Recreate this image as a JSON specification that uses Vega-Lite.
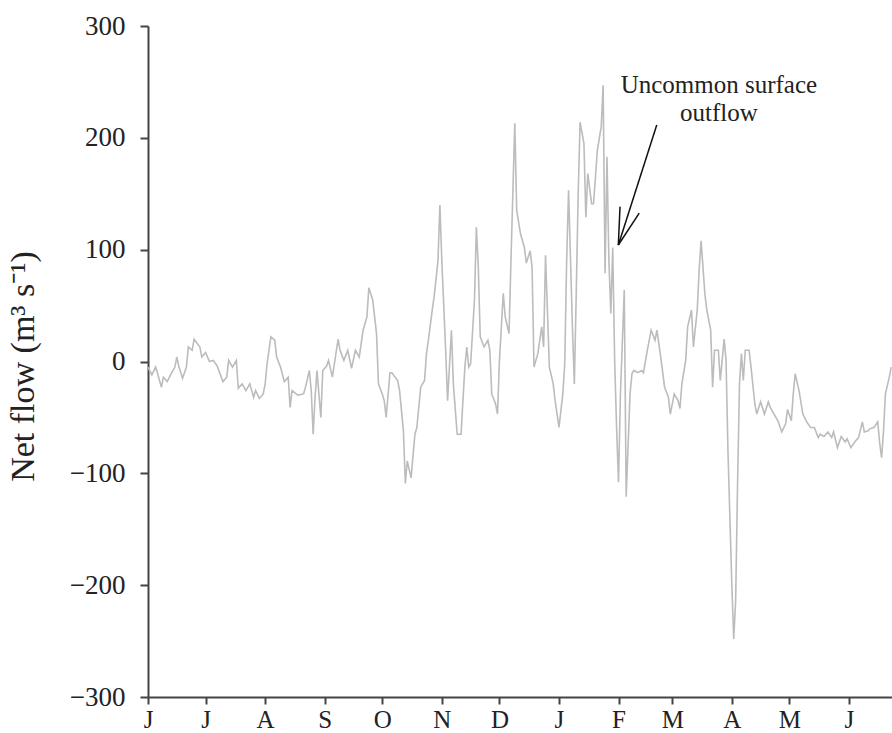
{
  "$schema": "https://vega.github.io/schema/vega-lite/v6.json",
  "width": 744,
  "height": 671,
  "autosize": {"type": "none"},
  "padding": {"left": 148, "top": 26, "right": 0, "bottom": 36},
  "background": "white",
  "config": {"view": {"stroke": null}, "font": "Liberation Serif"},
  "datasets": {
    "flow": [
      {"date": "2004-06-01", "flow": -5}, {"date": "2004-06-03", "flow": -12}, {"date": "2004-06-05", "flow": -5},
      {"date": "2004-06-08", "flow": -23}, {"date": "2004-06-09", "flow": -14}, {"date": "2004-06-11", "flow": -18},
      {"date": "2004-06-13", "flow": -11}, {"date": "2004-06-15", "flow": -5}, {"date": "2004-06-16", "flow": 4},
      {"date": "2004-06-17", "flow": -4}, {"date": "2004-06-19", "flow": -15}, {"date": "2004-06-21", "flow": -5},
      {"date": "2004-06-22", "flow": 13}, {"date": "2004-06-24", "flow": 10}, {"date": "2004-06-25", "flow": 20},
      {"date": "2004-06-28", "flow": 13}, {"date": "2004-06-29", "flow": 4}, {"date": "2004-07-01", "flow": 8},
      {"date": "2004-07-03", "flow": 0}, {"date": "2004-07-05", "flow": 1}, {"date": "2004-07-07", "flow": -4},
      {"date": "2004-07-10", "flow": -18}, {"date": "2004-07-12", "flow": -14}, {"date": "2004-07-13", "flow": 1},
      {"date": "2004-07-15", "flow": -5}, {"date": "2004-07-17", "flow": 1}, {"date": "2004-07-18", "flow": -24},
      {"date": "2004-07-20", "flow": -20}, {"date": "2004-07-22", "flow": -26}, {"date": "2004-07-24", "flow": -20},
      {"date": "2004-07-26", "flow": -32}, {"date": "2004-07-27", "flow": -26}, {"date": "2004-07-29", "flow": -33},
      {"date": "2004-07-31", "flow": -29}, {"date": "2004-08-01", "flow": -20}, {"date": "2004-08-02", "flow": -2},
      {"date": "2004-08-04", "flow": 22}, {"date": "2004-08-06", "flow": 19}, {"date": "2004-08-07", "flow": 4},
      {"date": "2004-08-09", "flow": -5}, {"date": "2004-08-11", "flow": -18}, {"date": "2004-08-13", "flow": -14},
      {"date": "2004-08-14", "flow": -41}, {"date": "2004-08-15", "flow": -26}, {"date": "2004-08-18", "flow": -30},
      {"date": "2004-08-21", "flow": -29}, {"date": "2004-08-22", "flow": -23}, {"date": "2004-08-24", "flow": -8},
      {"date": "2004-08-25", "flow": -26}, {"date": "2004-08-26", "flow": -65}, {"date": "2004-08-27", "flow": -32},
      {"date": "2004-08-28", "flow": -8}, {"date": "2004-08-30", "flow": -50}, {"date": "2004-08-31", "flow": -8},
      {"date": "2004-09-02", "flow": -4}, {"date": "2004-09-03", "flow": 1}, {"date": "2004-09-05", "flow": -14},
      {"date": "2004-09-08", "flow": 20}, {"date": "2004-09-09", "flow": 10}, {"date": "2004-09-11", "flow": 1},
      {"date": "2004-09-13", "flow": 10}, {"date": "2004-09-15", "flow": -6}, {"date": "2004-09-17", "flow": 10},
      {"date": "2004-09-19", "flow": 4}, {"date": "2004-09-21", "flow": 28}, {"date": "2004-09-23", "flow": 40},
      {"date": "2004-09-24", "flow": 66}, {"date": "2004-09-26", "flow": 55}, {"date": "2004-09-28", "flow": 25},
      {"date": "2004-09-29", "flow": -20}, {"date": "2004-10-01", "flow": -29}, {"date": "2004-10-02", "flow": -35},
      {"date": "2004-10-03", "flow": -50}, {"date": "2004-10-05", "flow": -10}, {"date": "2004-10-06", "flow": -10},
      {"date": "2004-10-09", "flow": -17}, {"date": "2004-10-10", "flow": -26}, {"date": "2004-10-12", "flow": -62},
      {"date": "2004-10-13", "flow": -109}, {"date": "2004-10-14", "flow": -89}, {"date": "2004-10-16", "flow": -104},
      {"date": "2004-10-18", "flow": -65}, {"date": "2004-10-19", "flow": -59}, {"date": "2004-10-21", "flow": -23},
      {"date": "2004-10-23", "flow": -17}, {"date": "2004-10-24", "flow": 7}, {"date": "2004-10-25", "flow": 19},
      {"date": "2004-10-27", "flow": 46}, {"date": "2004-10-28", "flow": 58}, {"date": "2004-10-30", "flow": 90},
      {"date": "2004-10-31", "flow": 140}, {"date": "2004-11-01", "flow": 90}, {"date": "2004-11-03", "flow": 10},
      {"date": "2004-11-04", "flow": -35}, {"date": "2004-11-06", "flow": 28}, {"date": "2004-11-07", "flow": -20},
      {"date": "2004-11-09", "flow": -65}, {"date": "2004-11-11", "flow": -65}, {"date": "2004-11-12", "flow": -35},
      {"date": "2004-11-13", "flow": -5}, {"date": "2004-11-14", "flow": 13}, {"date": "2004-11-15", "flow": -5},
      {"date": "2004-11-16", "flow": -2}, {"date": "2004-11-18", "flow": 55}, {"date": "2004-11-19", "flow": 120},
      {"date": "2004-11-20", "flow": 84}, {"date": "2004-11-21", "flow": 22}, {"date": "2004-11-23", "flow": 13},
      {"date": "2004-11-25", "flow": 19}, {"date": "2004-11-26", "flow": 10}, {"date": "2004-11-27", "flow": -29},
      {"date": "2004-11-29", "flow": -38}, {"date": "2004-11-30", "flow": -47}, {"date": "2004-12-01", "flow": 1},
      {"date": "2004-12-03", "flow": 61}, {"date": "2004-12-04", "flow": 40}, {"date": "2004-12-06", "flow": 25},
      {"date": "2004-12-07", "flow": 90}, {"date": "2004-12-09", "flow": 213}, {"date": "2004-12-10", "flow": 135},
      {"date": "2004-12-12", "flow": 114}, {"date": "2004-12-14", "flow": 102}, {"date": "2004-12-15", "flow": 88},
      {"date": "2004-12-17", "flow": 99}, {"date": "2004-12-18", "flow": 84}, {"date": "2004-12-19", "flow": -5},
      {"date": "2004-12-21", "flow": 7}, {"date": "2004-12-23", "flow": 31}, {"date": "2004-12-24", "flow": 13},
      {"date": "2004-12-25", "flow": 95}, {"date": "2004-12-27", "flow": -5}, {"date": "2004-12-29", "flow": -20},
      {"date": "2004-12-30", "flow": -35}, {"date": "2005-01-01", "flow": -59}, {"date": "2005-01-03", "flow": -29},
      {"date": "2005-01-04", "flow": -2}, {"date": "2005-01-05", "flow": 90}, {"date": "2005-01-06", "flow": 153},
      {"date": "2005-01-08", "flow": 31}, {"date": "2005-01-09", "flow": -20}, {"date": "2005-01-10", "flow": 61},
      {"date": "2005-01-11", "flow": 150}, {"date": "2005-01-12", "flow": 214}, {"date": "2005-01-14", "flow": 195},
      {"date": "2005-01-15", "flow": 129}, {"date": "2005-01-16", "flow": 168}, {"date": "2005-01-18", "flow": 141},
      {"date": "2005-01-19", "flow": 141}, {"date": "2005-01-21", "flow": 189}, {"date": "2005-01-23", "flow": 210},
      {"date": "2005-01-24", "flow": 247}, {"date": "2005-01-25", "flow": 79}, {"date": "2005-01-26", "flow": 183},
      {"date": "2005-01-27", "flow": 90}, {"date": "2005-01-28", "flow": 43}, {"date": "2005-01-29", "flow": 102},
      {"date": "2005-01-30", "flow": 1}, {"date": "2005-01-31", "flow": -59}, {"date": "2005-02-01", "flow": -108},
      {"date": "2005-02-02", "flow": -29}, {"date": "2005-02-04", "flow": 64}, {"date": "2005-02-05", "flow": -121},
      {"date": "2005-02-07", "flow": -29}, {"date": "2005-02-08", "flow": -11}, {"date": "2005-02-09", "flow": -8},
      {"date": "2005-02-11", "flow": -10}, {"date": "2005-02-13", "flow": -8}, {"date": "2005-02-14", "flow": -10},
      {"date": "2005-02-16", "flow": 10}, {"date": "2005-02-18", "flow": 28}, {"date": "2005-02-20", "flow": 19},
      {"date": "2005-02-21", "flow": 28}, {"date": "2005-02-23", "flow": 4}, {"date": "2005-02-25", "flow": -23},
      {"date": "2005-02-27", "flow": -32}, {"date": "2005-02-28", "flow": -47}, {"date": "2005-03-02", "flow": -29},
      {"date": "2005-03-04", "flow": -35}, {"date": "2005-03-05", "flow": -42}, {"date": "2005-03-06", "flow": -20},
      {"date": "2005-03-08", "flow": 1}, {"date": "2005-03-09", "flow": 31}, {"date": "2005-03-11", "flow": 46},
      {"date": "2005-03-12", "flow": 13}, {"date": "2005-03-14", "flow": 46}, {"date": "2005-03-15", "flow": 82},
      {"date": "2005-03-16", "flow": 108}, {"date": "2005-03-18", "flow": 60}, {"date": "2005-03-19", "flow": 46},
      {"date": "2005-03-21", "flow": 28}, {"date": "2005-03-22", "flow": -23}, {"date": "2005-03-23", "flow": 10},
      {"date": "2005-03-25", "flow": 10}, {"date": "2005-03-26", "flow": -17}, {"date": "2005-03-28", "flow": 20},
      {"date": "2005-03-29", "flow": 1}, {"date": "2005-03-30", "flow": -80}, {"date": "2005-04-01", "flow": -199},
      {"date": "2005-04-02", "flow": -248}, {"date": "2005-04-03", "flow": -214}, {"date": "2005-04-04", "flow": -109},
      {"date": "2005-04-05", "flow": -20}, {"date": "2005-04-06", "flow": 7}, {"date": "2005-04-07", "flow": -17},
      {"date": "2005-04-08", "flow": 10}, {"date": "2005-04-10", "flow": 10}, {"date": "2005-04-11", "flow": -5},
      {"date": "2005-04-13", "flow": -38}, {"date": "2005-04-14", "flow": -47}, {"date": "2005-04-16", "flow": -36},
      {"date": "2005-04-18", "flow": -47}, {"date": "2005-04-20", "flow": -36}, {"date": "2005-04-21", "flow": -41},
      {"date": "2005-04-23", "flow": -47}, {"date": "2005-04-25", "flow": -53}, {"date": "2005-04-27", "flow": -63},
      {"date": "2005-04-29", "flow": -56}, {"date": "2005-04-30", "flow": -43}, {"date": "2005-05-02", "flow": -53},
      {"date": "2005-05-03", "flow": -29}, {"date": "2005-05-04", "flow": -11}, {"date": "2005-05-06", "flow": -26},
      {"date": "2005-05-08", "flow": -47}, {"date": "2005-05-10", "flow": -54}, {"date": "2005-05-12", "flow": -59},
      {"date": "2005-05-14", "flow": -59}, {"date": "2005-05-16", "flow": -68}, {"date": "2005-05-17", "flow": -65},
      {"date": "2005-05-19", "flow": -67}, {"date": "2005-05-21", "flow": -63}, {"date": "2005-05-23", "flow": -68},
      {"date": "2005-05-24", "flow": -63}, {"date": "2005-05-26", "flow": -77}, {"date": "2005-05-28", "flow": -67},
      {"date": "2005-05-30", "flow": -72}, {"date": "2005-05-31", "flow": -69}, {"date": "2005-06-02", "flow": -77},
      {"date": "2005-06-04", "flow": -72}, {"date": "2005-06-06", "flow": -68}, {"date": "2005-06-08", "flow": -54},
      {"date": "2005-06-09", "flow": -63}, {"date": "2005-06-11", "flow": -62}, {"date": "2005-06-12", "flow": -60},
      {"date": "2005-06-14", "flow": -59}, {"date": "2005-06-16", "flow": -54}, {"date": "2005-06-17", "flow": -73},
      {"date": "2005-06-18", "flow": -86}, {"date": "2005-06-19", "flow": -62}, {"date": "2005-06-20", "flow": -29},
      {"date": "2005-06-22", "flow": -14}, {"date": "2005-06-23", "flow": -5}
    ],
    "arrow": [
      {"x1": "2005-02-20T22:00:00Z", "y1": 211.5, "x2": "2005-01-31T22:00:00Z", "y2": 104.2},
      {"x1": "2005-01-31T22:00:00Z", "y1": 104.2, "x2": "2005-02-01T19:00:00Z", "y2": 138.5},
      {"x1": "2005-01-31T22:00:00Z", "y1": 104.2, "x2": "2005-02-11T19:00:00Z", "y2": 132.6}
    ],
    "note": [
      {"date": "2005-03-25T07:00:00Z", "value": 240, "label": "Uncommon surface"},
      {"date": "2005-03-25T07:00:00Z", "value": 215, "label": "outflow"}
    ]
  },
  "layer": [
    {
      "data": {"name": "flow"},
      "mark": {"type": "line", "color": "#bcbcbc", "strokeWidth": 1.6},
      "encoding": {
        "x": {
          "field": "date",
          "type": "temporal",
          "scale": {
            "type": "utc",
            "domain": [
              {"year": 2004, "month": 6, "date": 1, "utc": true},
              {"year": 2005, "month": 6, "date": 23, "hours": 10, "utc": true}
            ]
          },
          "axis": {
            "title": null,
            "values": [
              {"year": 2004, "month": 6, "date": 1, "utc": true},
              {"year": 2004, "month": 7, "date": 1, "utc": true},
              {"year": 2004, "month": 8, "date": 1, "utc": true},
              {"year": 2004, "month": 9, "date": 1, "utc": true},
              {"year": 2004, "month": 10, "date": 1, "utc": true},
              {"year": 2004, "month": 11, "date": 1, "utc": true},
              {"year": 2004, "month": 12, "date": 1, "utc": true},
              {"year": 2005, "month": 1, "date": 1, "utc": true},
              {"year": 2005, "month": 2, "date": 1, "utc": true},
              {"year": 2005, "month": 3, "date": 1, "utc": true},
              {"year": 2005, "month": 4, "date": 1, "utc": true},
              {"year": 2005, "month": 5, "date": 1, "utc": true},
              {"year": 2005, "month": 6, "date": 1, "utc": true}
            ],
            "labelExpr": "substring(utcFormat(datum.value, '%b'), 0, 1)",
            "labelFont": "Liberation Serif",
            "labelFontSize": 25,
            "labelColor": "#222",
            "labelPadding": 3,
            "labelFlush": false,
            "labelOverlap": false,
            "tickSize": 7,
            "tickWidth": 2,
            "tickColor": "#444",
            "domainColor": "#444",
            "domainWidth": 2,
            "grid": false
          }
        },
        "y": {
          "field": "flow",
          "type": "quantitative",
          "scale": {"domain": [-300, 300], "nice": false, "zero": false},
          "axis": {
            "values": [-300, -200, -100, 0, 100, 200, 300],
            "title": "Net flow (m³ s⁻¹)",
            "titleFont": "Liberation Serif",
            "titleFontSize": 34,
            "titleFontWeight": "normal",
            "titleColor": "#222",
            "titleAngle": -90,
            "titleX": -115,
            "titleY": 340,
            "titleAlign": "center",
            "titleBaseline": "alphabetic",
            "labelFont": "Liberation Serif",
            "labelFontSize": 27,
            "labelColor": "#222",
            "labelPadding": 15,
            "labelFlush": false,
            "labelOverlap": false,
            "tickSize": 8,
            "tickWidth": 2,
            "tickColor": "#444",
            "domainColor": "#444",
            "domainWidth": 2,
            "grid": false
          }
        }
      }
    },
    {
      "mark": {"type": "rule", "color": "#333", "strokeWidth": 2},
      "encoding": {"y": {"datum": 0}}
    },
    {
      "mark": {"type": "rule", "color": "#444", "strokeWidth": 2},
      "encoding": {"y": {"datum": 300}}
    },
    {
      "data": {"name": "arrow"},
      "mark": {"type": "rule", "color": "#111", "strokeWidth": 1.5},
      "encoding": {
        "x": {"field": "x1", "type": "temporal"},
        "x2": {"field": "x2"},
        "y": {"field": "y1", "type": "quantitative"},
        "y2": {"field": "y2"}
      }
    },
    {
      "data": {"name": "note"},
      "mark": {"type": "text", "font": "Liberation Serif", "fontSize": 25, "align": "center", "baseline": "alphabetic", "color": "#222"},
      "encoding": {
        "x": {"field": "date", "type": "temporal"},
        "y": {"field": "value", "type": "quantitative"},
        "text": {"field": "label"}
      }
    }
  ]
}
